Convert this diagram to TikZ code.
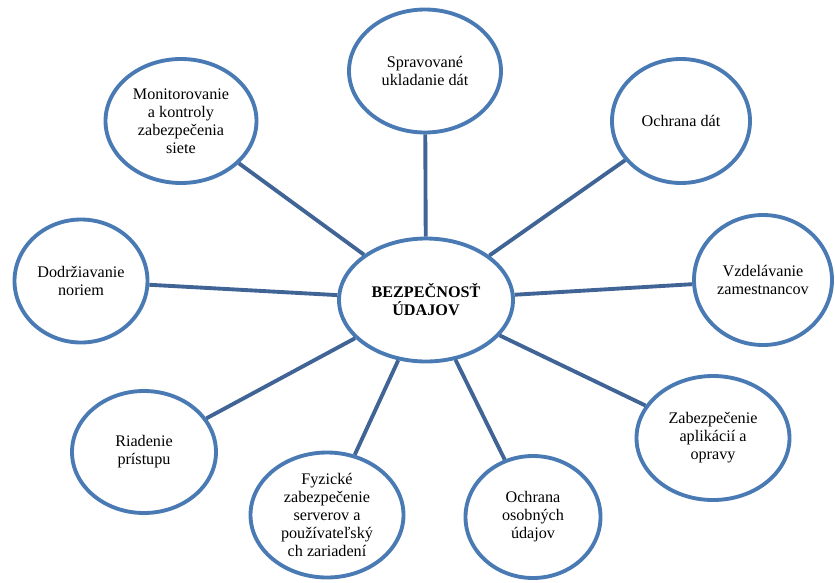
\documentclass[tikz,border=0pt]{standalone}
\usepackage{fontspec}
\setmainfont{Liberation Serif}
\usepackage{tikz}
\usetikzlibrary{shapes.geometric}
\definecolor{ellblue}{RGB}{74,122,180}
\definecolor{lineblue}{RGB}{64,100,150}

\begin{document}
\begin{tikzpicture}[x=0.03cm, y=-0.03cm,
  part/.style={ellipse, draw=ellblue, line width=3.3pt, fill=white, inner sep=0pt, align=center,
    font=\fontsize{13.8}{15.3}\selectfont},
  hub/.style={part, font=\fontsize{13.8}{15.3}\selectfont\bfseries},
  size/.style 2 args={minimum width=#1*0.03cm, minimum height=#2*0.03cm},
  link/.style={draw=lineblue, line width=3.3pt}]
  \useasboundingbox (0,0) rectangle (835,582);

  % Central node
  \node[hub, size={174}{123}] (H) at (426,300) {BEZPEČNOSŤ\\ÚDAJOV};

  % Nodes around it
  \node[part, size={152}{123}] (S) at (425,71) {Spravované\\ukladanie dát};
  \node[part, size={138}{124}] (OD) at (681,121) {Ochrana dát};
  \node[part, size={138}{130}] (V) at (763,280) {Vzdelávanie\\zamestnancov};
  \node[part, size={153}{124}] (Z) at (713,438) {Zabezpečenie\\aplikácií a\\opravy};
  \node[part, size={135}{122}] (OO) at (533,517) {Ochrana\\osobných\\údajov};
  \node[part, size={153}{125}] (F) at (327,515) {Fyzické\\zabezpečenie\\serverov a\\používateľský\\ch zariadení};
  \node[part, size={144}{122}] (R) at (144,452) {Riadenie\\prístupu};
  \node[part, size={133}{123}] (D) at (81,281) {Dodržiavanie\\noriem};
  \node[part, size={151}{124}] (M) at (181,121) {Monitorovanie\\a kontroly\\zabezpečenia\\siete};

  % Connectors to the centre
  \foreach \n in {S,OD,V,Z,OO,F,R,D,M}
    \draw[link] (H) -- (\n);
\end{tikzpicture}
\end{document}
